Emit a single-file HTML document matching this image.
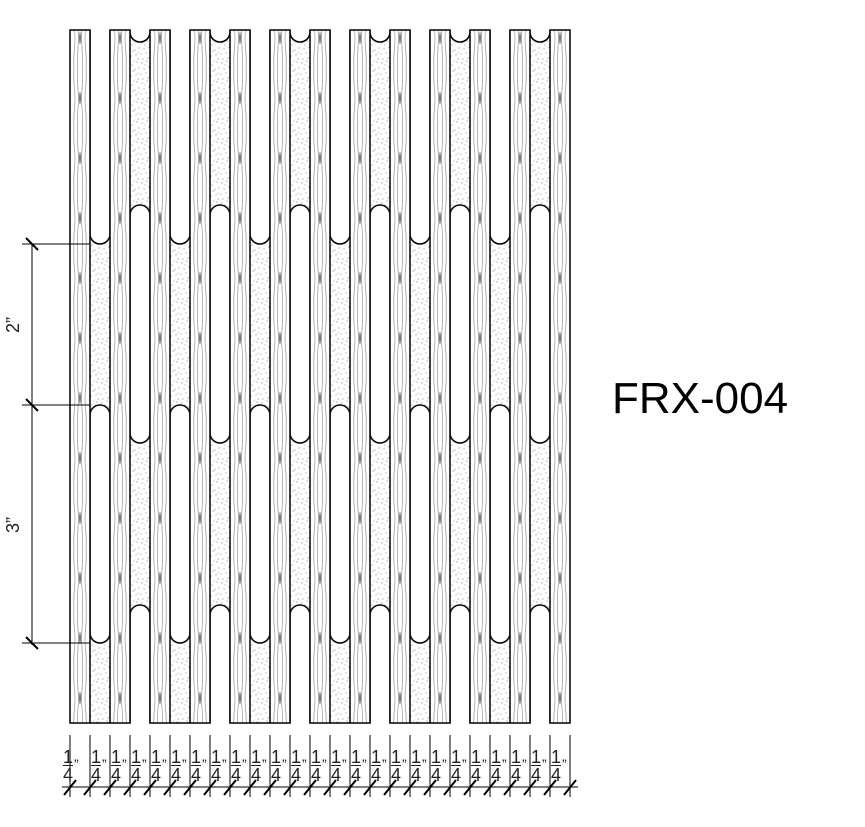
<!DOCTYPE html>
<html><head><style>
html,body{margin:0;padding:0;background:#fff;overflow:hidden;width:865px;height:827px;}
svg{display:block;}
</style></head><body>
<svg width="865" height="827" viewBox="0 0 865 827" xmlns="http://www.w3.org/2000/svg">
<defs>
<pattern id="woodpat" patternUnits="userSpaceOnUse" x="70" y="8" width="20" height="60">
<rect width="20" height="60" fill="#fff"/>
<g fill="none" stroke="#999" stroke-width="0.7">
<path d="M4 0 C3 15 5 22 5 30 C5 40 3 48 4 60"/>
<path d="M7.5 0 C7 18 8.5 24 8.5 30 C8.5 38 7 45 7.5 60"/>
<path d="M12.5 0 C13 18 11.5 24 11.5 30 C11.5 38 13 45 12.5 60"/>
<path d="M16 0 C17 15 15 22 15 30 C15 40 17 48 16 60"/>
</g>
<ellipse cx="10" cy="30" rx="2" ry="6" fill="#aaa"/>
<ellipse cx="10" cy="30" rx="1" ry="3.5" fill="#777"/>
</pattern>
<pattern id="stip" patternUnits="userSpaceOnUse" width="20" height="20">
<rect width="20" height="20" fill="#fff"/>
<g fill="#888">
<circle cx="2" cy="3" r="0.6"/><circle cx="7" cy="1" r="0.6"/><circle cx="12" cy="5" r="0.6"/><circle cx="17" cy="2" r="0.6"/>
<circle cx="4" cy="9" r="0.6"/><circle cx="9" cy="7" r="0.6"/><circle cx="15" cy="10" r="0.6"/><circle cx="19" cy="8" r="0.6"/>
<circle cx="1" cy="14" r="0.6"/><circle cx="6" cy="13" r="0.6"/><circle cx="11" cy="16" r="0.6"/><circle cx="16" cy="15" r="0.6"/>
<circle cx="3" cy="19" r="0.6"/><circle cx="8" cy="18" r="0.6"/><circle cx="13" cy="11" r="0.6"/><circle cx="18" cy="19" r="0.6"/>
<circle cx="5" cy="5" r="0.5"/><circle cx="14" cy="1" r="0.5"/><circle cx="10" cy="12" r="0.5"/><circle cx="18" cy="13" r="0.5"/>
</g>
</pattern>
<clipPath id="cl"><rect x="60" y="30" width="520" height="693"/></clipPath>
</defs>

<g fill="url(#stip)" id="gstip"></g>
<g clip-path="url(#cl)" fill="#fff" stroke="#000" stroke-width="1.5" id="gslots"></g>
<g id="gwood" fill="url(#woodpat)" stroke="#000" stroke-width="1.5"></g>
<g stroke="#000" stroke-width="1.5" id="gblines"></g>

<g stroke="#000" stroke-width="1">
<line x1="32" y1="244" x2="32" y2="645"/>
<line x1="22" y1="244" x2="90" y2="244"/>
<line x1="22" y1="405" x2="90" y2="405"/>
<line x1="22" y1="643" x2="90" y2="643"/>
<g stroke-width="2">
<line x1="26" y1="238" x2="38" y2="250"/>
<line x1="26" y1="399" x2="38" y2="411"/>
<line x1="26" y1="637" x2="38" y2="649"/>
</g>
</g>
<text transform="translate(19,325) rotate(-90)" font-family="Liberation Sans, sans-serif" font-size="18" text-anchor="middle" fill="#222">2”</text>
<text transform="translate(19,525) rotate(-90)" font-family="Liberation Sans, sans-serif" font-size="18" text-anchor="middle" fill="#222">3”</text>

<g id="gbdim" stroke="#000" stroke-width="1"></g>
<g id="gblab" font-family="Liberation Sans, sans-serif" fill="#222"></g>

<text x="612" y="413" font-family="Liberation Sans, sans-serif" font-size="44" fill="#000">FRX-004</text>
</svg>
<script>
var NS="http://www.w3.org/2000/svg";
function el(p,t,a){var e=document.createElementNS(NS,t);for(var k in a)e.setAttribute(k,a[k]);document.getElementById(p).appendChild(e);return e;}
function slot(x,y1,y2){return "M"+x+","+(y1+10)+" A10 10 0 0 1 "+(x+20)+","+(y1+10)+" L"+(x+20)+","+(y2-10)+" A10 10 0 0 1 "+x+","+(y2-10)+" Z";}
for(var i=0;i<12;i++){
 var x=90+i*40;
 el("gstip","rect",{x:x,y:30,width:20,height:693});
 if(i%2==0){
  el("gslots","path",{d:slot(x,-100,244)});
  el("gslots","path",{d:slot(x,405,643)});
  el("gblines","line",{x1:x,y1:723,x2:x+20,y2:723});
 } else {
  el("gslots","path",{d:slot(x,-100,42)});
  el("gslots","path",{d:slot(x,205,443)});
  el("gslots","path",{d:slot(x,605,900)});
 }
}
for(var j=0;j<13;j++){el("gwood","rect",{x:70+j*40,y:30,width:20,height:693});}
el("gbdim","line",{x1:62,y1:787,x2:578,y2:787});
for(var k=0;k<=25;k++){
 var x=70+k*20;
 el("gbdim","line",{x1:x,y1:735,x2:x,y2:797});
 el("gbdim","line",{x1:x-6,y1:795,x2:x+6,y2:780,"stroke-width":2});
}
for(var k=0;k<25;k++){
 var x=(k==0)?63:71+k*20;
 var t=el("gblab","text",{x:x+5,y:763,"font-size":"18","text-anchor":"middle"});t.textContent="1";
 el("gblab","line",{x1:x,y1:765.5,x2:x+10,y2:765.5,stroke:"#222","stroke-width":"1"});
 var t2=el("gblab","text",{x:x+5,y:781,"font-size":"18","text-anchor":"middle"});t2.textContent="4";
 var q=el("gblab","text",{x:x+11,y:769,"font-size":"14"});q.textContent="”";
}
</script>
</body></html>
